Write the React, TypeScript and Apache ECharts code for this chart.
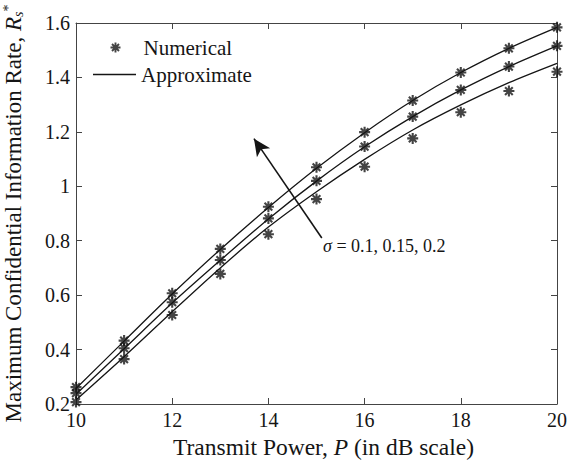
import React, { useEffect, useRef } from "react";
import * as echarts from "echarts";

const powerDb = [10, 11, 12, 13, 14, 15, 16, 17, 18, 19, 20];
const xTicks = [10, 12, 14, 16, 18, 20];
const yTicks = [0.2, 0.4, 0.6, 0.8, 1.0, 1.2, 1.4, 1.6];

// Numerical (asterisk markers), sigma = 0.1, 0.15, 0.2
const numSigma01 = [0.262, 0.433, 0.607, 0.770, 0.925, 1.070, 1.199, 1.315, 1.418, 1.507, 1.584];
const numSigma015 = [0.240, 0.405, 0.574, 0.729, 0.882, 1.020, 1.146, 1.256, 1.354, 1.440, 1.516];
const numSigma02 = [0.207, 0.365, 0.527, 0.678, 0.824, 0.953, 1.072, 1.176, 1.272, 1.350, 1.421];

// Approximate (solid lines)
const apxSigma01 = [0.257, 0.431, 0.604, 0.768, 0.922, 1.066, 1.197, 1.315, 1.418, 1.507, 1.584];
const apxSigma015 = [0.236, 0.403, 0.571, 0.728, 0.880, 1.019, 1.145, 1.256, 1.354, 1.440, 1.516];
const apxSigma02 = [0.215, 0.374, 0.539, 0.700, 0.850, 0.980, 1.099, 1.207, 1.299, 1.381, 1.452];

const arrowFrom = [15.11, 0.81];
const arrowTo = [13.7, 1.175];

const FONT = "'Liberation Serif', 'DejaVu Serif', serif";
const INK = "#151515";
const STAR = "path://M5,0L5,10M0,5L10,5M1.5,1.5L8.5,8.5M1.5,8.5L8.5,1.5";

const pairs = (ys: number[]) => powerDb.map((x, i) => [x, ys[i]]);

export default function App() {
  const ref = useRef<HTMLDivElement>(null);
  useEffect(() => {
    if (!ref.current) return;
    const chart = echarts.init(ref.current, undefined, { renderer: "svg" });
    const starSeries = (ys: number[]) => ({
      type: "scatter",
      name: "Numerical",
      data: pairs(ys),
      symbol: STAR,
      symbolSize: 11,
      itemStyle: { color: "none", borderColor: INK, borderWidth: 2.1 },
      z: 4,
    });
    const lineSeries = (ys: number[], extra: any = {}) => ({
      type: "line",
      name: "Approximate",
      data: pairs(ys),
      smooth: 0.3,
      symbol: "none",
      showSymbol: false,
      lineStyle: { color: INK, width: 1.3 },
      itemStyle: { color: INK },
      z: 3,
      ...extra,
    });
    const axisCommon = {
      axisLine: { show: true, lineStyle: { color: "#444", width: 1 } },
      axisTick: { show: true, inside: true, length: 6, lineStyle: { color: "#444" } },
      splitLine: { show: false },
    };
    chart.setOption({
      animation: false,
      backgroundColor: "#fff",
      textStyle: { fontFamily: FONT },
      grid: { left: 76, right: 29, top: 23, bottom: 57, containLabel: false, outerBoundsMode: "none" },
      legend: [
        {
          data: [{ name: "Numerical", icon: STAR, itemStyle: { color: "none", borderColor: INK, borderWidth: 1.9 } }],
          left: 103,
          top: 32,
          itemWidth: 10,
          itemHeight: 10,
          textStyle: { fontFamily: FONT, fontSize: 21, color: INK, padding: [0, 0, 0, 18] },
        },
        {
          data: [{ name: "Approximate", icon: "rect", itemStyle: { color: INK } }],
          left: 88,
          top: 59,
          itemWidth: 43,
          itemHeight: 1.4,
          textStyle: { fontFamily: FONT, fontSize: 21, color: INK },
        },
      ],
      xAxis: [
        {
          type: "value",
          min: 10,
          max: 20,
          interval: 2,
          position: "bottom",
          ...axisCommon,
          axisLabel: { fontFamily: FONT, fontSize: 20, color: INK, margin: 6 },
          name: "Transmit Power, {i|P} (in dB scale)",
          nameLocation: "middle",
          nameGap: 24,
          nameTextStyle: {
            fontFamily: FONT,
            fontSize: 23.5,
            color: INK,
            padding: [0, 0, 0, 14],
            rich: { i: { fontFamily: FONT, fontSize: 23.5, fontStyle: "italic", color: INK } },
          },
        },
        {
          type: "value",
          min: 10,
          max: 20,
          interval: 2,
          position: "top",
          ...axisCommon,
          axisLabel: { show: false },
        },
      ],
      yAxis: [
        {
          type: "value",
          min: 0.2,
          max: 1.6,
          interval: 0.2,
          position: "left",
          ...axisCommon,
          axisLabel: {
            fontFamily: FONT,
            fontSize: 20,
            color: INK,
            margin: 6,
            formatter: (v: number) => {
              const r = Math.round(v * 10) / 10;
              return yTicks.some((t) => Math.abs(t - r) < 1e-6) ? String(r) : "";
            },
          },
          name: "Maximum Confidential Information Rate, {i|R}{sub|s}{sup|*}",
          nameLocation: "middle",
          nameRotate: 90,
          nameGap: 51,
          nameTextStyle: {
            fontFamily: FONT,
            fontSize: 23,
            color: INK,
            lineHeight: 24,
            rich: {
              i: { fontFamily: FONT, fontSize: 23, fontStyle: "italic", color: INK, lineHeight: 24 },
              sub: { fontFamily: FONT, fontSize: 14, fontStyle: "italic", color: INK, verticalAlign: "bottom", lineHeight: 24 },
              sup: { fontFamily: FONT, fontSize: 14, color: INK, verticalAlign: "top", lineHeight: 24 },
            },
          },
        },
        {
          type: "value",
          min: 0.2,
          max: 1.6,
          interval: 0.2,
          position: "right",
          ...axisCommon,
          axisLabel: { show: false },
        },
      ],
      graphic: [
        {
          type: "text",
          left: 323,
          top: 237,
          style: {
            text: "{i|σ} = 0.1, 0.15, 0.2",
            fontFamily: FONT,
            fontSize: 18,
            fill: INK,
            rich: { i: { fontFamily: FONT, fontSize: 18, fontStyle: "italic", fill: INK } },
          },
        },
      ],
      series: [
        starSeries(numSigma01),
        starSeries(numSigma015),
        starSeries(numSigma02),
        lineSeries(apxSigma01, {
          markLine: {
            silent: true,
            symbol: ["none", "arrow"],
            symbolSize: [12, 17],
            label: { show: false },
            lineStyle: { color: INK, width: 1.6, type: "solid" },
            data: [[{ coord: arrowFrom }, { coord: arrowTo }]],
          },
        }),
        lineSeries(apxSigma015),
        lineSeries(apxSigma02),
      ],
    });
    return () => chart.dispose();
  }, []);
  return (
    <div
      ref={ref}
      style={{ position: "absolute", left: 0, top: 0, width: 586, height: 461, background: "#fff" }}
    />
  );
}
